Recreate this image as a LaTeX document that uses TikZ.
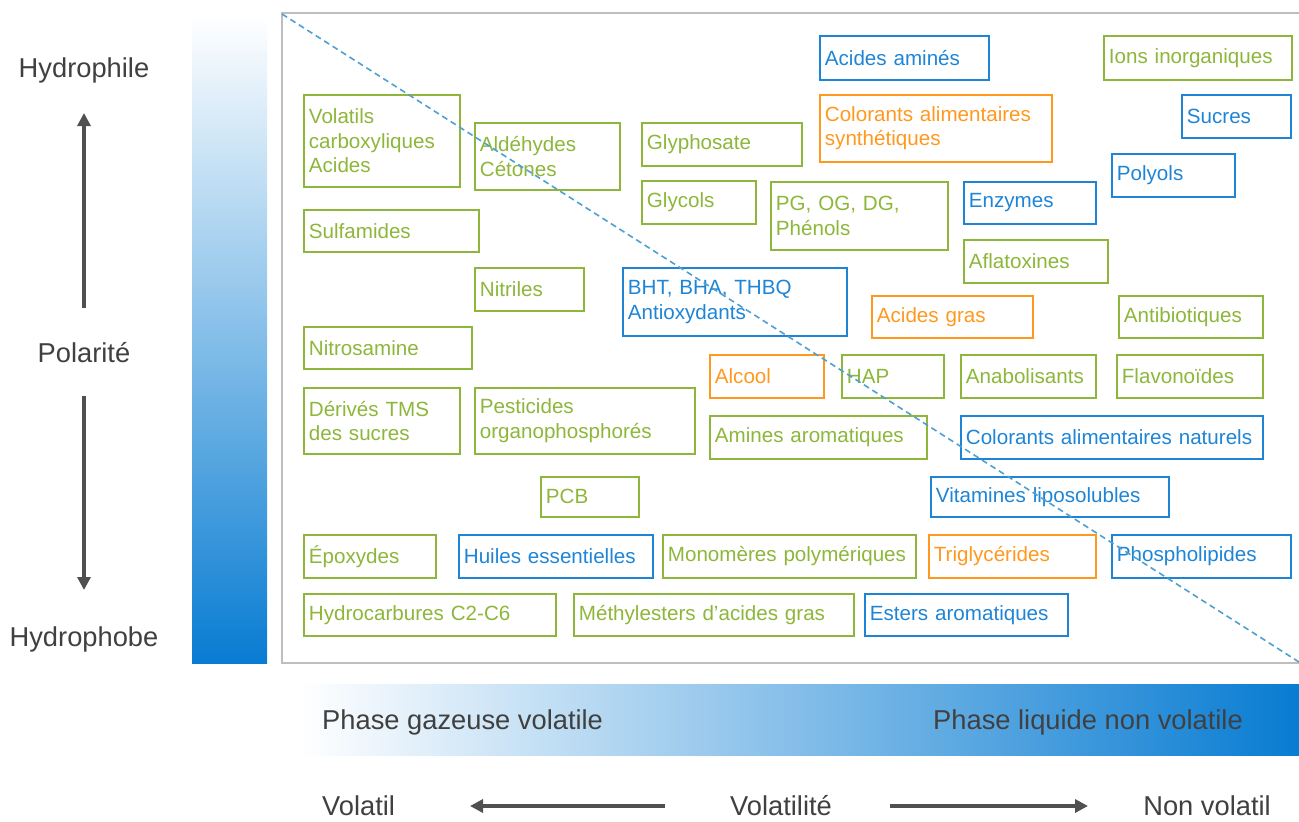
\documentclass[tikz,border=0pt]{standalone}
\usepackage{fontspec}
\setmainfont{Liberation Sans}
\usetikzlibrary{arrows.meta}

\definecolor{cgreen}{RGB}{141,182,58}
\definecolor{cblue}{RGB}{30,133,214}
\definecolor{corange}{RGB}{255,152,30}
\definecolor{cframe}{RGB}{190,190,190}
\definecolor{cdash}{RGB}{78,160,208}
\definecolor{cgrad}{RGB}{8,124,210}
\definecolor{cgradmid}{RGB}{180,200,236}
\definecolor{ctext}{RGB}{64,64,64}
\definecolor{carrow}{RGB}{80,80,80}

\tikzset{
    cbox/.style={draw, line width=1.8pt, anchor=north west, inner xsep=5pt, inner ysep=0pt, align=left, font=\fontsize{20.6}{24.5}\selectfont},
    gbox/.style={cbox, draw=cgreen, text=cgreen},
    bbox/.style={cbox, draw=cblue, text=cblue},
    obox/.style={cbox, draw=corange, text=corange},
    axlabel/.style={text=ctext, inner sep=0pt, anchor=base, font=\fontsize{27.3}{30}\selectfont},
    axarrow/.style={carrow, line width=4pt, -{Triangle[length=13pt, width=13pt]}}
}

\begin{document}
\begin{tikzpicture}[x=1pt, y=-1pt]
    \useasboundingbox (0, 0) rectangle (1299, 822);

    % Gradient bars
    \shade [top color=white, middle color=cgradmid, bottom color=cgrad] (192, 16) rectangle (267, 663);
    \shade [left color=white, middle color=cgradmid, right color=cgrad] (300, 684) rectangle (1299, 755);

    % Frame
    \draw [cframe, line width=1.5pt] (1299, 13) -- (282, 13) -- (282, 663) -- (1299, 663);

    % Polarity axis
    \node [axlabel] (hydrophile) at (84, 77) {Hydrophile};
    \node [axlabel] (polarite) at (84, 362) {Polarité};
    \node [axlabel] (hydrophobe) at (84, 646) {Hydrophobe};
    \coordinate (pupa) at (84, 308);
    \coordinate (pupb) at (84, 113);
    \coordinate (pdna) at (84, 396);
    \coordinate (pdnb) at (84, 590);
    \draw [axarrow] (pupa) -- (pupb);
    \draw [axarrow] (pdna) -- (pdnb);

    % Volatility axis
    \node [axlabel, anchor=base west] (gaz) at (322, 729) {Phase gazeuse volatile};
    \node [axlabel, anchor=base west] (liq) at (933, 729) {Phase liquide non volatile};
    \node [axlabel, anchor=base west] (volatil) at (322, 815) {Volatil};
    \node [axlabel] (volatilite) at (781, 815) {Volatilité};
    \node [axlabel, anchor=base east] (nonvolatil) at (1271, 815) {Non volatil};
    \coordinate (vlfa) at (665, 806);
    \coordinate (vlfb) at (470, 806);
    \coordinate (vrta) at (890, 806);
    \coordinate (vrtb) at (1088, 806);
    \draw [axarrow] (vlfa) -- (vlfb);
    \draw [axarrow] (vrta) -- (vrtb);

    % Compounds
    \node [bbox, text width=159pt, minimum height=44pt] (acam) at (819, 35) {Acides aminés};
    \node [gbox, text width=178pt, minimum height=44pt] (ions) at (1103, 35) {Ions inorganiques};
    \node [gbox, text width=146pt, minimum height=92pt] (volatils) at (303, 94) {Volatils\\carboxyliques\\Acides};
    \node [obox, text width=222pt, minimum height=67pt] (colsyn) at (819, 94) {Colorants alimentaires\\synthétiques};
    \node [bbox, text width=99pt, minimum height=43pt] (sucres) at (1181, 94) {Sucres};
    \node [gbox, text width=135pt, minimum height=67pt] (aldehydes) at (474, 122) {Aldéhydes\\Cétones};
    \node [gbox, text width=150pt, minimum height=43pt] (glyphosate) at (641, 122) {Glyphosate};
    \node [bbox, text width=113pt, minimum height=43pt] (polyols) at (1111, 153) {Polyols};
    \node [gbox, text width=104pt, minimum height=43pt] (glycols) at (641, 180) {Glycols};
    \node [gbox, text width=167pt, minimum height=68pt] (pg) at (770, 181) {PG, OG, DG,\\Phénols};
    \node [bbox, text width=122pt, minimum height=42pt] (enzymes) at (963, 181) {Enzymes};
    \node [gbox, text width=165pt, minimum height=42pt] (sulfamides) at (303, 209) {Sulfamides};
    \node [gbox, text width=134pt, minimum height=43pt] (aflatox) at (963, 239) {Aflatoxines};
    \node [gbox, text width=99pt, minimum height=43pt] (nitriles) at (474, 267) {Nitriles};
    \node [bbox, text width=214pt, minimum height=68pt] (bht) at (622, 267) {BHT, BHA, THBQ\\Antioxydants};
    \node [obox, text width=151pt, minimum height=42pt] (acgras) at (871, 295) {Acides gras};
    \node [gbox, text width=134pt, minimum height=42pt] (antibio) at (1118, 295) {Antibiotiques};
    \node [gbox, text width=158pt, minimum height=42pt] (nitrosamine) at (303, 326) {Nitrosamine};
    \node [obox, text width=104pt, minimum height=43pt] (alcool) at (709, 354) {Alcool};
    \node [gbox, text width=92pt, minimum height=43pt] (hap) at (841, 354) {HAP};
    \node [gbox, text width=125pt, minimum height=43pt] (anabol) at (960, 354) {Anabolisants};
    \node [gbox, text width=136pt, minimum height=43pt] (flavo) at (1116, 354) {Flavonoïdes};
    \node [gbox, text width=146pt, minimum height=66pt] (tms) at (303, 387) {Dérivés TMS\\des sucres};
    \node [gbox, text width=210pt, minimum height=66pt] (pesticides) at (474, 387) {Pesticides\\organophosphorés};
    \node [gbox, text width=207pt, minimum height=43pt] (amines) at (709, 415) {Amines aromatiques};
    \node [bbox, text width=292pt, minimum height=43pt] (colnat) at (960, 415) {Colorants alimentaires naturels};
    \node [gbox, text width=88pt, minimum height=40pt] (pcb) at (540, 476) {PCB};
    \node [bbox, text width=228pt, minimum height=40pt] (vitamines) at (930, 476) {Vitamines liposolubles};
    \node [gbox, text width=122pt, minimum height=43pt] (epoxydes) at (303, 534) {Époxydes};
    \node [bbox, text width=184pt, minimum height=43pt] (huiles) at (458, 534) {Huiles essentielles};
    \node [gbox, text width=243pt, minimum height=43pt] (monomeres) at (662, 534) {Monomères polymériques};
    \node [obox, text width=157pt, minimum height=43pt] (triglyc) at (928, 534) {Triglycérides};
    \node [bbox, text width=169pt, minimum height=43pt] (phospho) at (1111, 534) {Phospholipides};
    \node [gbox, text width=242pt, minimum height=42pt] (hydrocarb) at (303, 593) {Hydrocarbures C2-C6};
    \node [gbox, text width=270pt, minimum height=42pt] (methyl) at (573, 593) {Méthylesters d'acides gras};
    \node [bbox, text width=193pt, minimum height=42pt] (esters) at (864, 593) {Esters aromatiques};

    % Diagonal
    \coordinate (dtop) at (282, 14);
    \coordinate (dbot) at (1299, 662);
    \draw [cdash, line width=1.6pt, dash pattern=on 6pt off 4pt] (dtop) -- (dbot);
\end{tikzpicture}
\end{document}
